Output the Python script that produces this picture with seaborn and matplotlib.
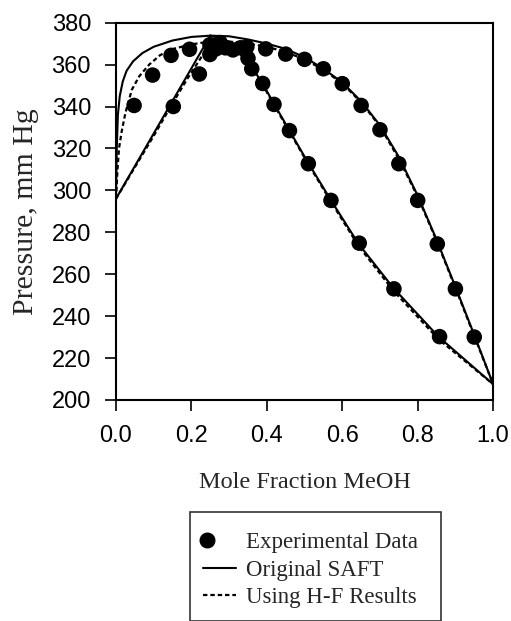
import matplotlib
matplotlib.use('Agg')
import matplotlib.pyplot as plt
from matplotlib.lines import Line2D
from matplotlib.legend_handler import HandlerLine2D
import seaborn as sns

# experimental VLE data (mole fraction MeOH, pressure mm Hg)
exp_x = [0.048, 0.097, 0.146, 0.195, 0.152, 0.221,
         0.249, 0.249, 0.265, 0.276, 0.29, 0.31, 0.33, 0.347, 0.35,
         0.36, 0.389, 0.419, 0.46, 0.51, 0.57, 0.645, 0.737, 0.858,
         0.397, 0.45, 0.50, 0.55, 0.60, 0.65, 0.70, 0.75, 0.80, 0.852, 0.90, 0.95]
exp_p = [340.5, 355.0, 364.4, 367.3, 340.0, 355.5,
         369.5, 364.8, 367.5, 370.5, 368.0, 367.0, 368.0, 368.5, 363.0,
         358.0, 351.0, 341.0, 328.5, 312.7, 295.2, 274.8, 253.0, 230.2,
         367.5, 365.0, 362.5, 358.0, 350.9, 340.5, 328.9, 312.7, 295.2, 274.4, 253.0, 230.0]

# Original SAFT
saft_bub_left_x = [0.0, 0.002, 0.005, 0.01, 0.018, 0.028, 0.045, 0.07, 0.10, 0.15, 0.20, 0.25]
saft_bub_left_p = [296.0, 320.0, 336.0, 345.0, 352.0, 357.0, 361.5, 365.5, 368.5, 371.5, 373.2, 373.8]
saft_dew_left_x = [0.0, 0.25]
saft_dew_left_p = [296.0, 373.8]
saft_bub_right_x = [0.25, 0.30, 0.35, 0.40, 0.45, 0.50, 0.55, 0.60, 0.65, 0.70, 0.75, 0.80, 0.85, 0.90, 0.95, 1.0]
saft_bub_right_p = [373.8, 373.5, 372.0, 370.0, 367.5, 363.5, 358.0, 351.5, 342.5, 331.0, 316.0, 297.5, 276.5, 254.0, 231.0, 207.5]
saft_dew_right_x = [0.25, 0.30, 0.33, 0.36, 0.39, 0.42, 0.46, 0.51, 0.572, 0.643, 0.736, 0.855, 1.0]
saft_dew_right_p = [373.8, 371.0, 366.5, 359.0, 350.5, 341.0, 328.5, 313.0, 294.7, 274.5, 253.3, 230.2, 207.5]

# SAFT using H-F results
hf_bub_left_x = [0.0, 0.004, 0.008, 0.015, 0.025, 0.042, 0.062, 0.088, 0.117, 0.152, 0.196, 0.23, 0.26]
hf_bub_left_p = [296.0, 310.0, 320.0, 328.0, 337.0, 348.0, 354.5, 360.0, 364.5, 367.5, 369.5, 370.5, 371.0]
hf_dew_left_x = [0.0, 0.05, 0.10, 0.15, 0.19, 0.21, 0.235, 0.26]
hf_dew_left_p = [296.0, 311.0, 326.0, 341.5, 353.5, 359.0, 366.0, 371.0]
hf_bub_right_x = [0.26, 0.30, 0.35, 0.40, 0.45, 0.50, 0.55, 0.60, 0.65, 0.70, 0.75, 0.80, 0.85, 0.90, 0.95, 1.0]
hf_bub_right_p = [371.0, 371.0, 370.0, 368.5, 366.0, 362.5, 357.5, 351.0, 342.0, 330.5, 315.0, 297.0, 276.0, 253.5, 230.5, 207.5]
hf_dew_right_x = [0.26, 0.30, 0.33, 0.36, 0.39, 0.42, 0.46, 0.51, 0.572, 0.643, 0.736, 0.855, 1.0]
hf_dew_right_p = [371.0, 368.5, 365.0, 358.5, 350.0, 340.5, 328.0, 312.5, 294.0, 273.5, 252.0, 229.0, 207.5]


class LeftMarkerHandler(HandlerLine2D):
    """Put the single legend marker near the left end of the handle."""
    def get_xdata(self, legend, xdescent, ydescent, width, height, fontsize):
        x0 = -xdescent
        xm = x0 + 0.13 * width
        # with one point the marker sits in the middle of xdata
        return [x0, 2 * xm - x0], [xm]


sns.set_style('ticks')
plt.rcParams['font.family'] = ['Liberation Sans', 'DejaVu Sans']

fig = plt.figure(figsize=(5.11, 6.21), dpi=100)
ax = fig.add_axes([0.227, 0.356, 0.738, 0.6075])

dotted = (0, (2, 1.3))

solid_curves = [(saft_bub_left_x, saft_bub_left_p), (saft_dew_left_x, saft_dew_left_p),
                (saft_bub_right_x, saft_bub_right_p), (saft_dew_right_x, saft_dew_right_p)]
dotted_curves = [(hf_bub_left_x, hf_bub_left_p), (hf_dew_left_x, hf_dew_left_p),
                 (hf_bub_right_x, hf_bub_right_p), (hf_dew_right_x, hf_dew_right_p)]

for cx, cp in dotted_curves:
    sns.lineplot(x=cx, y=cp, sort=False, estimator=None, color='black',
                 linewidth=1.6, linestyle=dotted, ax=ax)
for cx, cp in solid_curves:
    sns.lineplot(x=cx, y=cp, sort=False, estimator=None, color='black',
                 linewidth=1.5, ax=ax)

sns.scatterplot(x=exp_x, y=exp_p, color='black', s=125, edgecolor='none', ax=ax, zorder=3)

ax.set_xlim(0, 1.0)
ax.set_ylim(200, 380)
ax.set_xticks([0.0, 0.2, 0.4, 0.6, 0.8, 1.0])
ax.set_xticklabels(['0.0', '0.2', '0.4', '0.6', '0.8', '1.0'])
ax.set_yticks(range(200, 381, 20))
ax.tick_params(axis='both', direction='out', length=8, width=1.2, labelsize=17,
               color='black', labelcolor='black')
ax.tick_params(axis='x', pad=10)
ax.tick_params(axis='y', pad=10)
for sp in ax.spines.values():
    sp.set_visible(True)
    sp.set_color('black')
    sp.set_linewidth(1.5)

ax.set_xlabel('Mole Fraction MeOH', fontsize=17.5, family='Liberation Serif', labelpad=18)
ax.set_ylabel('Pressure, mm Hg', fontsize=21.5, family='Liberation Serif', labelpad=9)

marker_handle = Line2D([], [], marker='o', color='black', linestyle='none', markersize=10.5)
handles = [
    marker_handle,
    Line2D([], [], color='black', linewidth=1.5),
    Line2D([], [], color='black', linewidth=1.6, linestyle=dotted),
]
labels = ['Experimental Data', 'Original SAFT', 'Using H-F Results']
leg = fig.legend(handles, labels, loc='upper left',
                 bbox_to_anchor=(190 / 511, 1 - 512 / 621, 251 / 511, 0.0), mode='expand',
                 borderaxespad=0, frameon=True, fancybox=False, edgecolor='black',
                 prop={'family': 'Liberation Serif', 'size': 16.5},
                 title=' ', title_fontsize=1.5,
                 handler_map={marker_handle: LeftMarkerHandler()},
                 handlelength=1.45, handletextpad=0.45, borderpad=0.55, labelspacing=0.28)
leg.get_frame().set_linewidth(1.2)

fig.savefig('out.png', dpi=100, facecolor='white')
